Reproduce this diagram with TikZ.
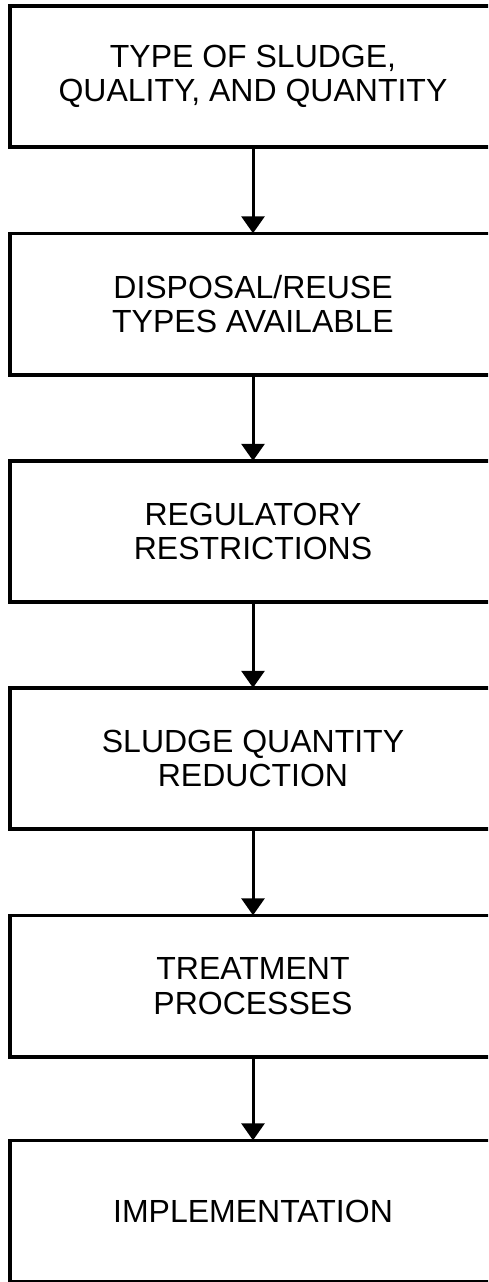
\documentclass[tikz,border=0pt]{standalone}
\usepackage{fontspec}
\setmainfont{Liberation Sans}
\usetikzlibrary{arrows.meta}
\begin{document}
\begin{tikzpicture}[x=1pt,y=-1pt,
  flowbox/.style={minimum width=486pt, minimum height=141pt,
    inner sep=0pt, align=center, font=\fontsize{32}{34.5}\selectfont},
  frame/.style={draw=black, line width=3.6pt},
  flowarrow/.style={line width=3pt, -{Triangle[width=23pt,length=17pt]}}]
\useasboundingbox (0,0) rectangle (488,1282);
\clip (0,0) rectangle (488,1282);
\node[flowbox] (b1) at (253,76.5) {TYPE OF SLUDGE,\\QUALITY, AND QUANTITY};
\node[flowbox] (b2) at (253,304) {DISPOSAL/REUSE\\TYPES AVAILABLE};
\node[flowbox] (b3) at (253,531.5) {REGULATORY\\RESTRICTIONS};
\node[flowbox] (b4) at (253,758.5) {SLUDGE QUANTITY\\REDUCTION};
\node[flowbox] (b5) at (253,986) {TREATMENT\\PROCESSES};
\node[flowbox] (b6) at (253,1211) {IMPLEMENTATION};
\foreach \b in {b1,b2,b3,b4,b5,b6}
  \draw[frame] (\b.north west) rectangle ([xshift=40pt]\b.south east);
\draw[flowarrow] (b1.south) -- (b2.north);
\draw[flowarrow] (b2.south) -- (b3.north);
\draw[flowarrow] (b3.south) -- (b4.north);
\draw[flowarrow] (b4.south) -- (b5.north);
\draw[flowarrow] (b5.south) -- (b6.north);
\end{tikzpicture}
\end{document}
